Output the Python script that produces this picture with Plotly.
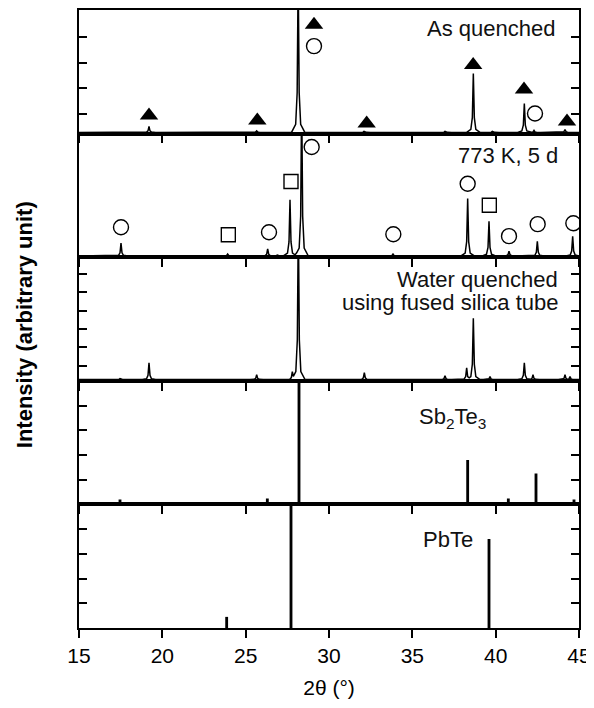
import numpy as np
import plotly.graph_objects as go
from plotly.subplots import make_subplots

# ---------------- data (2θ in degrees, intensity in arbitrary units) ----------------
# Panel 1: As quenched
aq_pos = [19.2, 25.66, 28.15, 32.1, 36.96, 38.66, 39.8, 41.72, 42.3, 44.16]
aq_int = [4.9, 1.2, 130, 0.8, 0.8, 48, 0.8, 23.5, 1.6, 2.4]
aq_tri_x = [19.2, 25.7, 29.1, 32.26, 38.65, 41.7, 44.28]
aq_tri_y = [13.8, 9.7, 88, 7.3, 55, 35, 8.9]
aq_circ_x = [29.1, 42.36]
aq_circ_y = [70.5, 15.4]

# Panel 2: 773 K, 5 d
an_pos = [17.52, 23.92, 26.32, 26.9, 27.66, 28.36, 33.84, 38.32, 39.6, 40.8, 42.5, 44.62]
an_int = [10.5, 1.6, 5.7, 0.8, 46, 130, 1.6, 47, 28.4, 4.0, 12, 16]
an_circ_x = [17.52, 26.4, 28.96, 33.86, 38.32, 40.8, 42.52, 44.66]
an_circ_y = [23.5, 19.4, 89, 17.8, 59, 16.2, 26, 26.7]
an_sq_x = [23.96, 27.72, 39.62]
an_sq_y = [17.3, 60.8, 41.5]

# Panel 3: Water quenched using fused silica tube
wq_pos = [17.46, 19.2, 25.66, 27.8, 28.16, 32.12, 36.96, 38.26, 38.66, 39.66, 41.72, 42.24, 44.16, 44.46]
wq_int = [0.8, 13.8, 4.0, 6.5, 130, 5.7, 3.2, 9.7, 50, 2.4, 13.8, 4.0, 4.0, 2.4]

# Panel 4: Sb2Te3 reference pattern
sb_pos = [17.46, 26.3, 26.8, 28.2, 33.82, 38.32, 40.76, 42.42, 44.7]
sb_int = [4, 4.8, 1.6, 100, 0.8, 36, 4.8, 25, 4]

# Panel 5: PbTe reference pattern
pb_pos = [23.86, 27.72, 39.6]
pb_int = [9, 100, 72]

x_ticks = [15, 20, 25, 30, 35, 40, 45]

# ---------------- helpers ----------------
OFFS = np.array([-0.4, -0.15, -0.06, 0.0, 0.06, 0.15, 0.4])
FRAC = np.array([0.0, 0.05, 0.25, 1.0, 0.25, 0.05, 0.0])


def pattern(pos, hts):
    xs = sorted(set([15.0, 45.0] + [round(p + o, 4) for p in pos for o in OFFS]))
    xs = np.array(xs)
    ys = np.zeros_like(xs)
    for p, h in zip(pos, hts):
        ys = np.maximum(ys, np.interp(xs, p + OFFS, h * FRAC, left=0, right=0))
    return xs, ys


FONT = "Liberation Sans, Arial, Helvetica, sans-serif"
BLACK = "#000000"

fig = make_subplots(rows=5, cols=1, shared_xaxes=True, vertical_spacing=0)

for row, (pos, hts) in enumerate([(aq_pos, aq_int), (an_pos, an_int), (wq_pos, wq_int)], start=1):
    xs, ys = pattern(pos, hts)
    fig.add_trace(go.Scatter(x=xs, y=ys, mode="lines", line=dict(color=BLACK, width=1.5),
                             showlegend=False, hoverinfo="skip"), row=row, col=1)

tri = dict(symbol="triangle-up", size=16, color=BLACK)
circ = dict(symbol="circle-open", size=15, color=BLACK, line=dict(width=1.4, color=BLACK))
sq = dict(symbol="square-open", size=14, color=BLACK, line=dict(width=1.4, color=BLACK))

fig.add_trace(go.Scatter(x=aq_tri_x, y=aq_tri_y, mode="markers", marker=tri, showlegend=False), row=1, col=1)
fig.add_trace(go.Scatter(x=aq_circ_x, y=aq_circ_y, mode="markers", marker=circ, showlegend=False), row=1, col=1)
fig.add_trace(go.Scatter(x=an_circ_x, y=an_circ_y, mode="markers", marker=circ, showlegend=False), row=2, col=1)
fig.add_trace(go.Scatter(x=an_sq_x, y=an_sq_y, mode="markers", marker=sq, showlegend=False), row=2, col=1)

for row, (pos, hts) in [(4, (sb_pos, sb_int)), (5, (pb_pos, pb_int))]:
    fig.add_trace(go.Bar(x=pos, y=hts, width=0.17, marker=dict(color=BLACK, line=dict(width=0)),
                         showlegend=False, hoverinfo="skip"), row=row, col=1)

# axes
for r in range(1, 6):
    fig.update_xaxes(range=[15, 45], tickvals=x_ticks, ticks="outside", ticklen=8, tickwidth=1.5,
                     tickcolor=BLACK, showline=True, mirror=True, linecolor=BLACK, linewidth=1.5,
                     showgrid=False, zeroline=False, showticklabels=(r == 5),
                     tickfont=dict(family=FONT, size=21, color=BLACK), row=r, col=1)

ytick_sets = {
    1: [15.2, 36.3, 56.5, 77.6],
    2: [],
    3: [11.2, 26.5, 41.1, 55.7, 71.9, 86.5],
    4: [20, 40, 60, 80],
    5: [20, 40, 60, 80],
}
for r in range(1, 6):
    rng = [-1, 100] if r <= 3 else [0, 100]
    fig.update_yaxes(range=rng, tickvals=ytick_sets[r], ticks="inside" if ytick_sets[r] else "",
                     ticklen=8, tickwidth=1.5, tickcolor=BLACK, showline=True, mirror="ticks",
                     linecolor=BLACK, linewidth=1.5, showgrid=False, zeroline=False,
                     showticklabels=False, row=r, col=1)

fig.update_xaxes(title=dict(text="2θ (°)", font=dict(family=FONT, size=21, color=BLACK), standoff=14),
                 row=5, col=1)

ann_font = dict(family=FONT, size=22, color="#111111")
annotations = [
    dict(text="As quenched", x=43.7, xref="x", y=0.85, yref="y domain", xanchor="right"),
    dict(text="773 K, 5 d", x=43.88, xref="x2", y=0.82, yref="y2 domain", xanchor="right"),
    dict(text="Water quenched", x=43.88, xref="x3", y=0.82, yref="y3 domain", xanchor="right"),
    dict(text="using fused silica tube", x=43.88, xref="x3", y=0.635, yref="y3 domain", xanchor="right"),
    dict(text="Sb<sub>2</sub>Te<sub>3</sub>", x=37.38, xref="x4", y=0.70, yref="y4 domain", xanchor="center"),
    dict(text="PbTe", x=37.14, xref="x5", y=0.72, yref="y5 domain", xanchor="center"),
]
for a in annotations:
    a.update(showarrow=False, yanchor="middle", font=ann_font)

annotations.append(dict(text="Intensity (arbitrary unit)", x=-0.11, xref="paper", y=0.49, yref="paper",
                        textangle=-90, showarrow=False, xanchor="center", yanchor="middle",
                        font=dict(family=FONT, size=22, color=BLACK, weight="bold")))

# page body has an 8px margin: size the figure so it fits the 594x708 window exactly
fig.update_layout(
    width=586, height=700,
    margin=dict(l=71, r=15, t=0, b=80),
    paper_bgcolor="white", plot_bgcolor="white",
    annotations=annotations,
    barmode="overlay",
    font=dict(family=FONT, color=BLACK),
)

fig.write_html("out.html")
